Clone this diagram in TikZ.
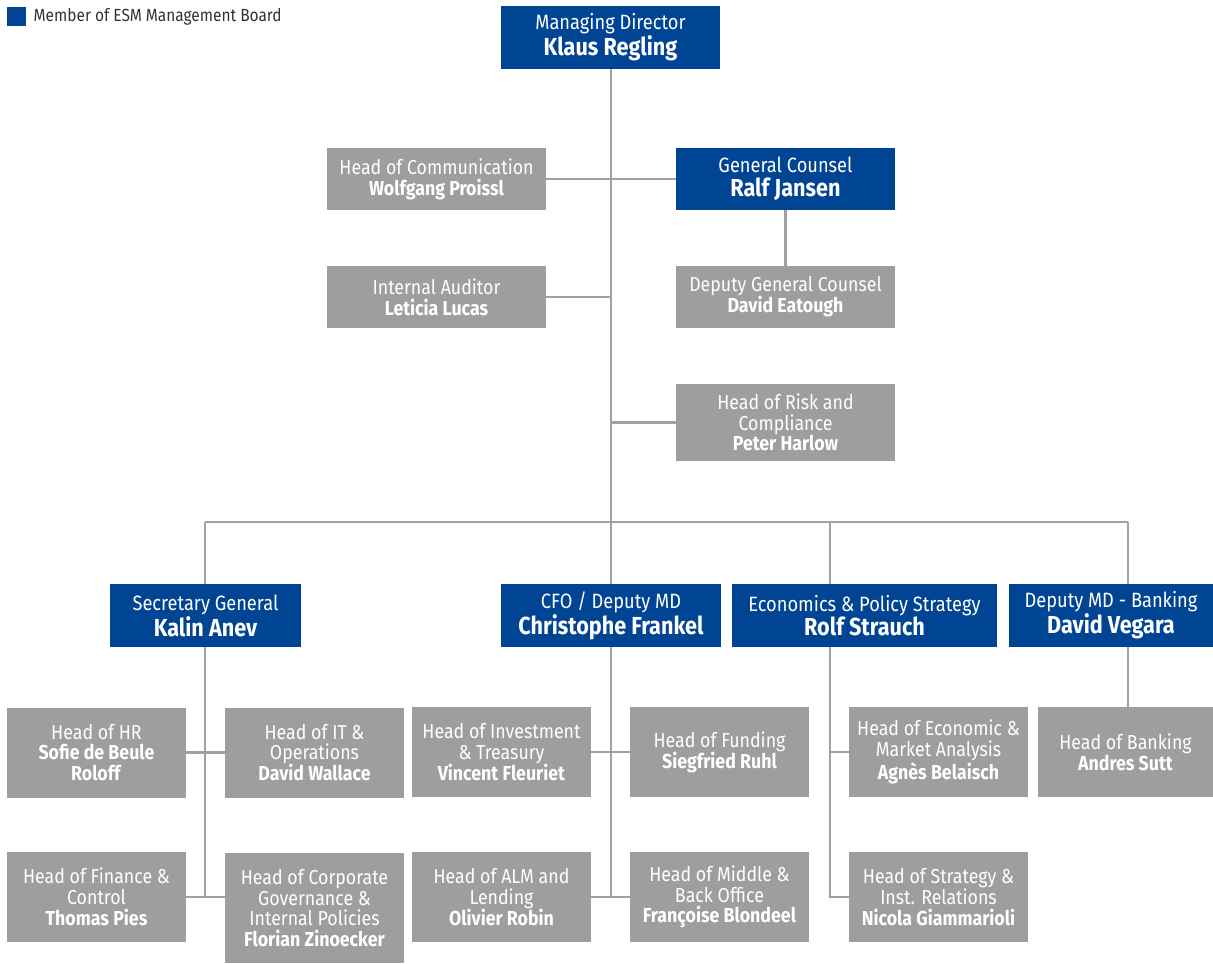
\documentclass[tikz,border=0pt]{standalone}
\usepackage{fontspec}
\setmainfont{Fira Sans}[FakeStretch=0.88]
\usetikzlibrary{positioning}
\definecolor{esmblue}{RGB}{0,68,148}
\definecolor{boxgray}{RGB}{157,158,160}
\definecolor{linegray}{RGB}{160,161,163}
\definecolor{keytext}{RGB}{51,51,51}
\newcommand{\nm}[1]{{\fontsize{14}{16}\selectfont\bfseries #1}}
\tikzset{board/.style={fill=esmblue, text=white, align=center, inner sep=0pt,
    minimum height=1.26cm, font=\fontsize{11.8}{13.5}\selectfont}}
\tikzset{head/.style={fill=boxgray, text=white, align=center, inner sep=0pt,
    minimum width=3.58cm, minimum height=1.8cm, font=\fontsize{11.5}{11.8}\selectfont}}
\tikzset{link/.style={draw=linegray, line width=1.6pt}}

\begin{document}
\begin{tikzpicture}[x=0.02cm, y=-0.02cm]
    \useasboundingbox[fill=white] (0,0) rectangle (1213,963);
    % legend
    \node [fill=esmblue, minimum size=0.38cm, inner sep=0pt] (key) at (16.5,16.5) {};
    \node [right=0.14cm of key, inner sep=0pt, text=keytext, font=\fontsize{10}{12}\selectfont] (keytxt) {Member of ESM Management Board};

    % top
    \node [board, minimum width=4.38cm] (md) at (610.5,37.5) {Managing Director\\\nm{Klaus Regling}};
    \node [head, minimum width=4.38cm, minimum height=1.24cm] (comm) at (436.5,179) {Head of Communication\\\textbf{Wolfgang Proissl}};
    \node [board, minimum width=4.38cm, minimum height=1.24cm] (gc) at (785.5,179) {General Counsel\\\nm{Ralf Jansen}};
    \node [head, minimum width=4.38cm, minimum height=1.24cm] (audit) at (436.5,297) {Internal Auditor\\\textbf{Leticia Lucas}};
    \node [head, minimum width=4.38cm, minimum height=1.24cm] (dgc) at (785.5,297) {Deputy General Counsel\\\textbf{David Eatough}};
    \node [head, minimum width=4.38cm, minimum height=1.54cm] (risk) at (785.5,422.5) {Head of Risk and\\Compliance\\\textbf{Peter Harlow}};

    % management board
    \node [board, minimum width=3.82cm] (sg) at (205.5,615.5) {Secretary General\\\nm{Kalin Anev}};
    \node [board, minimum width=4.4cm] (cfo) at (611,615.5) {CFO / Deputy MD\\\nm{Christophe Frankel}};
    \node [board, minimum width=5.3cm] (eco) at (864.5,615.5) {Economics \& Policy Strategy\\\nm{Rolf Strauch}};
    \node [board, minimum width=4.08cm] (dmd) at (1111,615.5) {Deputy MD - Banking\\\nm{David Vegara}};

    % heads
    \node [head] (hr) at (96.5,752.5) {Head of HR\\\textbf{Sofie de Beule}\\\textbf{Roloff}};
    \node [head] (it) at (314.5,752.5) {Head of IT \&\\Operations\\\textbf{David Wallace}};
    \node [head] (inv) at (501.5,752) {Head of Investment\\\& Treasury\\\textbf{Vincent Fleuriet}};
    \node [head] (fund) at (719.5,752) {Head of Funding\\\textbf{Siegfried Ruhl}};
    \node [head] (econ) at (938.5,752) {Head of Economic \&\\Market Analysis\\\textbf{Agnès Belaisch}};
    \node [head, minimum width=3.5cm] (bank) at (1125.5,752) {Head of Banking\\\textbf{Andres Sutt}};
    \node [head] (fin) at (96.5,897) {Head of Finance \&\\Control\\\textbf{Thomas Pies}};
    \node [head, minimum height=2.2cm] (gov) at (314.5,908) {Head of Corporate\\Governance \&\\Internal Policies\\\textbf{Florian Zinoecker}};
    \node [head] (alm) at (501.5,897) {Head of ALM and\\Lending\\\textbf{Olivier Robin}};
    \node [head] (mbo) at (719.5,897) {Head of Middle \&\\Back Office\\\textbf{Françoise Blondeel}};
    \node [head] (strat) at (938.5,897) {Head of Strategy \&\\Inst. Relations\\\textbf{Nicola Giammarioli}};

    \coordinate (hub) at (611,522);
    \coordinate (barL) at (205,522);
    \coordinate (barE) at (830,522);
    \coordinate (barR) at (1128,522);

    % connectors
    \draw [link] (md.south -| hub) -- (hub);
    \draw [link] (comm.east) -- (gc.west);
    \draw [link] (gc.south) -- (dgc.north);
    \draw [link] (audit.east) -- (audit.east -| hub);
    \draw [link] (risk.west) -- (risk.west -| hub);
    \draw [link] (barL) -- (barR);
    \draw [link] (barL) -- (barL |- sg.north);
    \draw [link] (hub) -- (hub |- cfo.north);
    \draw [link] (barE) -- (barE |- eco.north);
    \draw [link] (barR) -- (barR |- dmd.north);

    \draw [link] (sg.south -| barL) -- (barL |- fin.east);
    \draw [link] (hr.east) -- (it.west);
    \draw [link] (fin.east) -- (fin.east -| gov.west);
    \draw [link] (cfo.south -| hub) -- (hub |- alm.east);
    \draw [link] (inv.east) -- (fund.west);
    \draw [link] (alm.east) -- (mbo.west);
    \draw [link] (barE |- eco.south) -- (barE |- strat.west) -- (strat.west);
    \draw [link] (barE |- econ.west) -- (econ.west);
    \draw [link] (barR |- dmd.south) -- (barR |- bank.north);
\end{tikzpicture}
\end{document}
